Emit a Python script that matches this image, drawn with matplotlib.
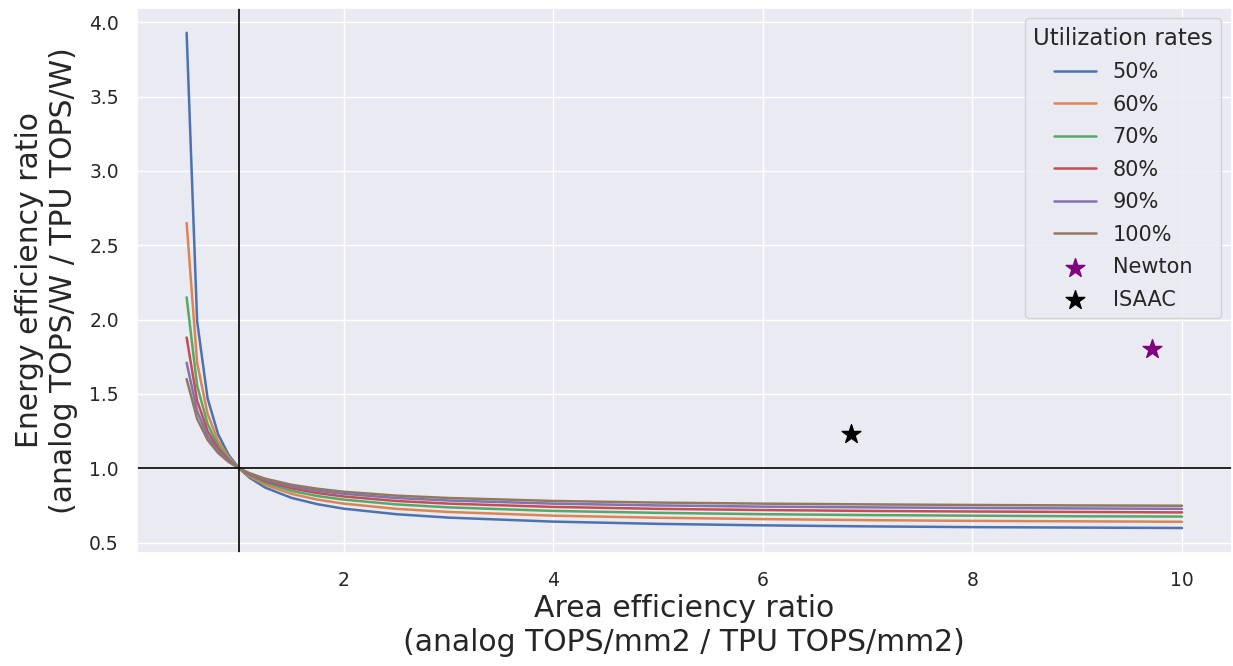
import numpy as np
import matplotlib
matplotlib.use('Agg')
import matplotlib.pyplot as plt
import seaborn as sns

# area efficiency ratio (x) sampled points
area_ratio = [0.5, 0.6, 0.7, 0.8, 0.9, 1.0, 1.1, 1.25, 1.5, 1.75, 2.0, 2.5, 3.0,
              4.0, 5.0, 6.0, 7.0, 8.0, 9.0, 10.0]

# energy efficiency ratio for each utilization rate
util_labels = ['50%', '60%', '70%', '80%', '90%', '100%']
energy_50 = [3.93, 1.99, 1.47, 1.230, 1.090, 1.0, 0.937, 0.870, 0.801, 0.758, 0.728,
             0.691, 0.668, 0.641, 0.626, 0.616, 0.609, 0.604, 0.601, 0.598]
energy_60 = [2.65, 1.71, 1.366, 1.185, 1.075, 1.0, 0.946, 0.889, 0.828, 0.789, 0.762,
             0.727, 0.706, 0.681, 0.667, 0.658, 0.651, 0.646, 0.643, 0.640]
energy_70 = [2.15, 1.556, 1.298, 1.155, 1.063, 1.0, 0.954, 0.903, 0.848, 0.813, 0.789,
             0.757, 0.737, 0.713, 0.700, 0.691, 0.685, 0.681, 0.677, 0.675]
energy_80 = [1.88, 1.455, 1.251, 1.133, 1.055, 1.0, 0.959, 0.914, 0.865, 0.833, 0.810,
             0.780, 0.762, 0.740, 0.727, 0.719, 0.713, 0.709, 0.706, 0.703]
energy_90 = [1.71, 1.385, 1.217, 1.116, 1.049, 1.0, 0.964, 0.923, 0.878, 0.848, 0.828,
             0.800, 0.783, 0.762, 0.750, 0.742, 0.737, 0.733, 0.730, 0.727]
energy_100 = [1.60, 1.333, 1.191, 1.103, 1.043, 1.0, 0.967, 0.930, 0.889, 0.862, 0.842,
              0.816, 0.800, 0.780, 0.769, 0.762, 0.757, 0.753, 0.750, 0.748]
energy_series = [energy_50, energy_60, energy_70, energy_80, energy_90, energy_100]

# published accelerators
newton_xy = (9.71, 1.80)
isaac_xy = (6.84, 1.23)

sns.set_theme(style='darkgrid')
plt.rcParams['font.family'] = ['DejaVu Sans']

fig, ax = plt.subplots(figsize=(12.33, 6.66), dpi=100)
fig.subplots_adjust(left=0.111, right=0.999, top=0.988, bottom=0.17)

for lab, ys in zip(util_labels, energy_series):
    ax.plot(area_ratio, ys, label=lab, linewidth=1.8)

ax.scatter([newton_xy[0]], [newton_xy[1]], marker='*', s=200, color='purple', label='Newton', zorder=3)
ax.scatter([isaac_xy[0]], [isaac_xy[1]], marker='*', s=200, color='black', label='ISAAC', zorder=3)

ax.axvline(1, color='black', linewidth=1.2)
ax.axhline(1, color='black', linewidth=1.2)

ax.set_xlabel('Area efficiency ratio\n(analog TOPS/mm2 / TPU TOPS/mm2)', fontsize=21.5, labelpad=3)
ax.set_ylabel('Energy efficiency ratio\n(analog TOPS/W / TPU TOPS/W)', fontsize=21.5, labelpad=8)
ax.tick_params(axis='x', labelsize=13.5, pad=7)
ax.tick_params(axis='y', labelsize=13.5, pad=7)
ax.legend(title='Utilization rates', fontsize=15, title_fontsize=16.5, loc='upper right',
          labelspacing=0.6)

fig.savefig('out.png', dpi=100)
